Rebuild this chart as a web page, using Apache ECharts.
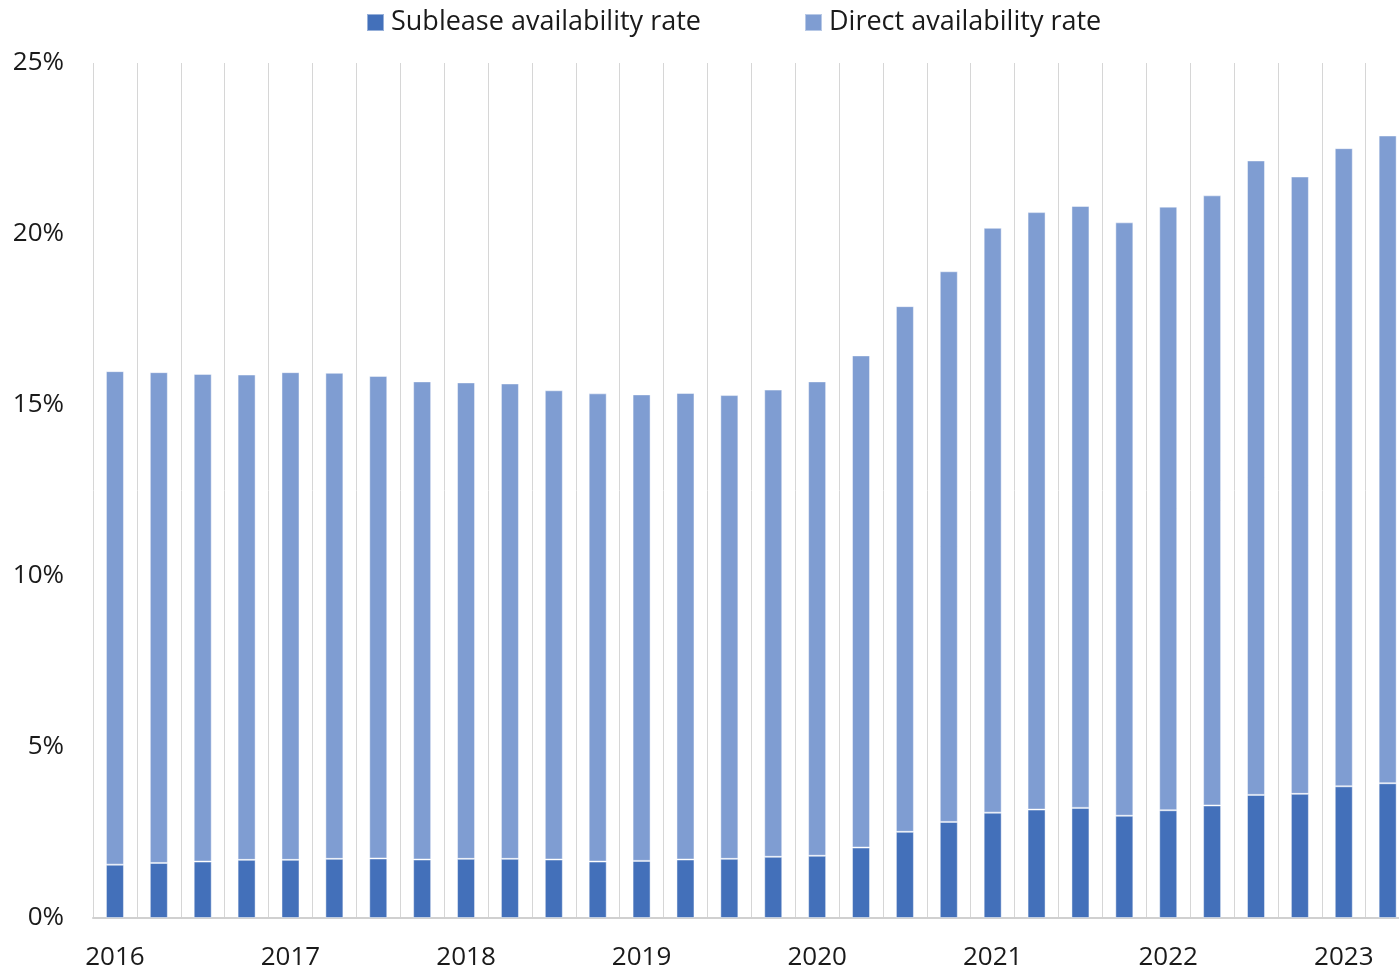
<!DOCTYPE html>
<html>
<head>
<meta charset="utf-8">
<title>Availability rate</title>
<script src="https://cdn.jsdelivr.net/npm/echarts@6/dist/echarts.min.js"></script>
<style>
  html, body { margin: 0; padding: 0; background: #ffffff; }
  #chart { width: 1399px; height: 970px; }
</style>
</head>
<body>
<div id="chart"></div>
<script>
// Quarterly periods, 2016 Q1 – 2023 Q2
const quarters = [
  '2016 Q1','2016 Q2','2016 Q3','2016 Q4',
  '2017 Q1','2017 Q2','2017 Q3','2017 Q4',
  '2018 Q1','2018 Q2','2018 Q3','2018 Q4',
  '2019 Q1','2019 Q2','2019 Q3','2019 Q4',
  '2020 Q1','2020 Q2','2020 Q3','2020 Q4',
  '2021 Q1','2021 Q2','2021 Q3','2021 Q4',
  '2022 Q1','2022 Q2','2022 Q3','2022 Q4',
  '2023 Q1','2023 Q2'
];

// Sublease availability rate (%)
const sublease = [
  1.56, 1.61, 1.65, 1.70, 1.70, 1.73, 1.74, 1.71, 1.73, 1.73,
  1.71, 1.65, 1.67, 1.71, 1.73, 1.79, 1.82, 2.06, 2.52, 2.81,
  3.08, 3.17, 3.22, 2.99, 3.15, 3.29, 3.60, 3.63, 3.85, 3.94
];

// Direct availability rate (%)
const direct = [
  14.43, 14.35, 14.26, 14.19, 14.26, 14.21, 14.11, 13.98, 13.93, 13.90,
  13.72, 13.69, 13.64, 13.64, 13.56, 13.66, 13.87, 14.39, 15.37, 16.10,
  17.10, 17.47, 17.60, 17.35, 17.65, 17.84, 18.55, 18.05, 18.66, 18.94
];

const seriesNames = ['Sublease availability rate', 'Direct availability rate'];

const FONT = '"Open Sans", "Noto Sans", sans-serif';
const TEXT = '#1a1a1a';

const chart = echarts.init(document.getElementById('chart'), null, { renderer: 'canvas' });

chart.setOption({
  animation: false,
  backgroundColor: '#ffffff',
  textStyle: { fontFamily: FONT },
  legend: {
    top: 9,
    left: 366,
    padding: 0,
    itemWidth: 17,
    itemHeight: 17,
    itemGap: 103,
    icon: 'rect',
    textStyle: { fontFamily: FONT, fontSize: 27, color: TEXT, padding: [0, 0, 0, 2] },
    data: seriesNames
  },
  // the plot runs slightly past the right edge of the canvas
  grid: {
    left: 93,
    width: 1316.6,
    top: 63,
    bottom: 52,
    outerBoundsMode: 'none',
    containLabel: false
  },
  xAxis: {
    type: 'category',
    data: quarters,
    boundaryGap: true,
    axisLine: { show: true, lineStyle: { color: '#d0d0d0', width: 2 } },
    axisTick: { show: false },
    splitLine: { show: true, interval: 0, lineStyle: { color: '#d6d6d6', width: 1 } },
    axisLabel: {
      interval: 3,
      margin: 27,
      fontFamily: FONT,
      fontSize: 26,
      color: TEXT,
      formatter: v => v.slice(0, 4)
    }
  },
  yAxis: {
    type: 'value',
    min: 0,
    max: 25,
    interval: 5,
    axisLine: { show: false },
    axisTick: { show: false },
    splitLine: { show: false },
    axisLabel: {
      margin: 29,
      fontFamily: FONT,
      fontSize: 26,
      color: TEXT,
      formatter: '{value}%'
    }
  },
  series: [
    {
      name: seriesNames[0],
      type: 'bar',
      stack: 'rate',
      barWidth: 18,
      data: sublease,
      itemStyle: { color: '#4370BA', borderColor: 'rgba(255,255,255,0.45)', borderWidth: 1 }
    },
    {
      name: seriesNames[1],
      type: 'bar',
      stack: 'rate',
      barWidth: 18,
      data: direct,
      itemStyle: { color: '#7F9DD2', borderColor: 'rgba(255,255,255,0.45)', borderWidth: 1 }
    }
  ]
});
</script>
</body>
</html>
